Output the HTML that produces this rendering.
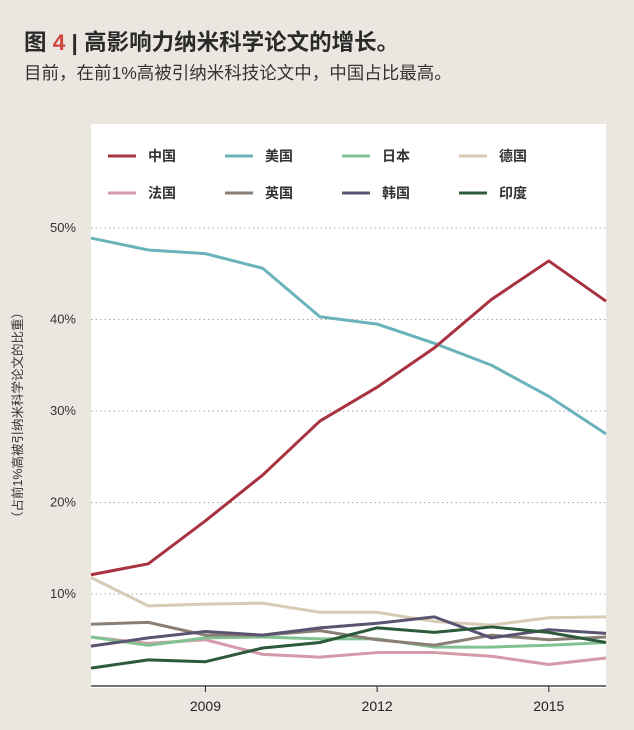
<!DOCTYPE html>
<html><head><meta charset="utf-8"><style>
body{margin:0;background:#ebe7e0;width:634px;height:730px;overflow:hidden;font-family:"Liberation Sans","Noto Sans CJK SC",sans-serif;}
</style></head><body>
<svg width="634" height="730" style="position:absolute;left:0;top:0">
<text x="24" y="50" font-size="22.5" font-weight="bold" fill="#2a2a2a" font-family="Liberation Sans,Noto Sans CJK SC,sans-serif">图 <tspan fill="#d0443e">4</tspan> | 高影响力纳米科学论文的增长。</text>
<text x="24" y="79" font-size="17.5" fill="#333" font-family="Liberation Sans,Noto Sans CJK SC,sans-serif">目前，在前1%高被引纳米科技论文中，中国占比最高。</text>
<rect x="91" y="124" width="515" height="564" fill="#fff"/>
<g id="grid"></g><g id="lines"></g><g id="legend"></g>
<line x1="91" y1="686" x2="606" y2="686" stroke="#222" stroke-width="1.2"/>
<text transform="translate(22,415) rotate(-90)" text-anchor="middle" font-size="12.5" fill="#333" font-family="Liberation Sans,Noto Sans CJK SC,sans-serif">（占前1%高被引纳米科学论文的比重）</text>
</svg>
<script>
const years=[2007,2008,2009,2010,2011,2012,2013,2014,2015,2016];
const yTicks=[10,20,30,40,50];
const xTicks=[2009,2012,2015];
const names=["中国","美国","日本","德国","法国","英国","韩国","印度"];
const colors=["#a83240","#6bb3bb","#82c191","#d8cbb5","#d59aaa","#8a7f76","#5a5470","#2d5a3a"];
const china=[12.1,13.3,18,23,28.9,32.6,36.9,42.2,46.4,42];
const usa=[48.9,47.6,47.2,45.6,40.3,39.5,37.4,35,31.6,27.5];
const japan=[5.3,4.4,5.2,5.3,5.1,5.1,4.2,4.2,4.4,4.7];
const germany=[11.8,8.7,8.9,9.0,8.0,8.0,7.0,6.6,7.4,7.5];
const france=[5.3,4.6,5.0,3.4,3.1,3.6,3.6,3.2,2.3,3.0];
const uk=[6.7,6.9,5.5,5.5,6.0,5.0,4.4,5.5,5.0,5.3];
const korea=[4.3,5.2,5.9,5.5,6.3,6.8,7.5,5.2,6.1,5.7];
const india=[1.9,2.8,2.6,4.1,4.7,6.3,5.8,6.4,5.8,4.7];
const series=[china,usa,japan,germany,france,uk,korea,india];
const NS="http://www.w3.org/2000/svg";
const xs=y=>91+(y-2007)*(515/9);
const ys=v=>685.5-v*9.15;
const g=document.getElementById('grid');
yTicks.forEach(t=>{
 const l=document.createElementNS(NS,'line');
 l.setAttribute('x1',91);l.setAttribute('x2',606);l.setAttribute('y1',ys(t));l.setAttribute('y2',ys(t));
 l.setAttribute('stroke','#aaa');l.setAttribute('stroke-dasharray','1.5 3');
 
 
 g.appendChild(l);
 const tx=document.createElementNS(NS,'text');
 tx.setAttribute('x',76);tx.setAttribute('y',ys(t)+4);tx.setAttribute('text-anchor','end');tx.setAttribute('font-size','13');tx.setAttribute('fill','#333');
 tx.textContent=t+'%';
 
 
 g.appendChild(tx);
});
xTicks.forEach(t=>{
 const l=document.createElementNS(NS,'line');
 l.setAttribute('x1',xs(t));l.setAttribute('x2',xs(t));l.setAttribute('y1',686);l.setAttribute('y2',692);l.setAttribute('stroke','#222');
 
 
 g.appendChild(l);
 const tx=document.createElementNS(NS,'text');
 tx.setAttribute('x',xs(t));tx.setAttribute('y',711);tx.setAttribute('text-anchor','middle');tx.setAttribute('font-size','14');tx.setAttribute('fill','#222');
 tx.textContent=t;
 
 
 g.appendChild(tx);
});
const L=document.getElementById('lines');
[3,4,2,5,6,7,1,0].forEach(i=>{
 const p=document.createElementNS(NS,'polyline');
 p.setAttribute('points',series[i].map((v,j)=>xs(years[j])+','+ys(v)).join(' '));
 p.setAttribute('fill','none');p.setAttribute('stroke',colors[i]);p.setAttribute('stroke-width','3');p.setAttribute('stroke-linejoin','round');
 
 
 L.appendChild(p);
});
const lg=document.getElementById('legend');
names.forEach((n,i)=>{
 const x=108+(i%4)*117, y=i<4?156:193;
 const l=document.createElementNS(NS,'line');
 l.setAttribute('x1',x);l.setAttribute('x2',x+28);l.setAttribute('y1',y);l.setAttribute('y2',y);l.setAttribute('stroke',colors[i]);l.setAttribute('stroke-width','3');
 
 
 lg.appendChild(l);
 const t=document.createElementNS(NS,'text');
 t.setAttribute('x',x+40);t.setAttribute('y',y+5);t.setAttribute('font-size','14');t.setAttribute('font-weight','bold');t.setAttribute('fill','#333');
 t.textContent=n;
 
 
 lg.appendChild(t);
});
</script>
</body></html>
